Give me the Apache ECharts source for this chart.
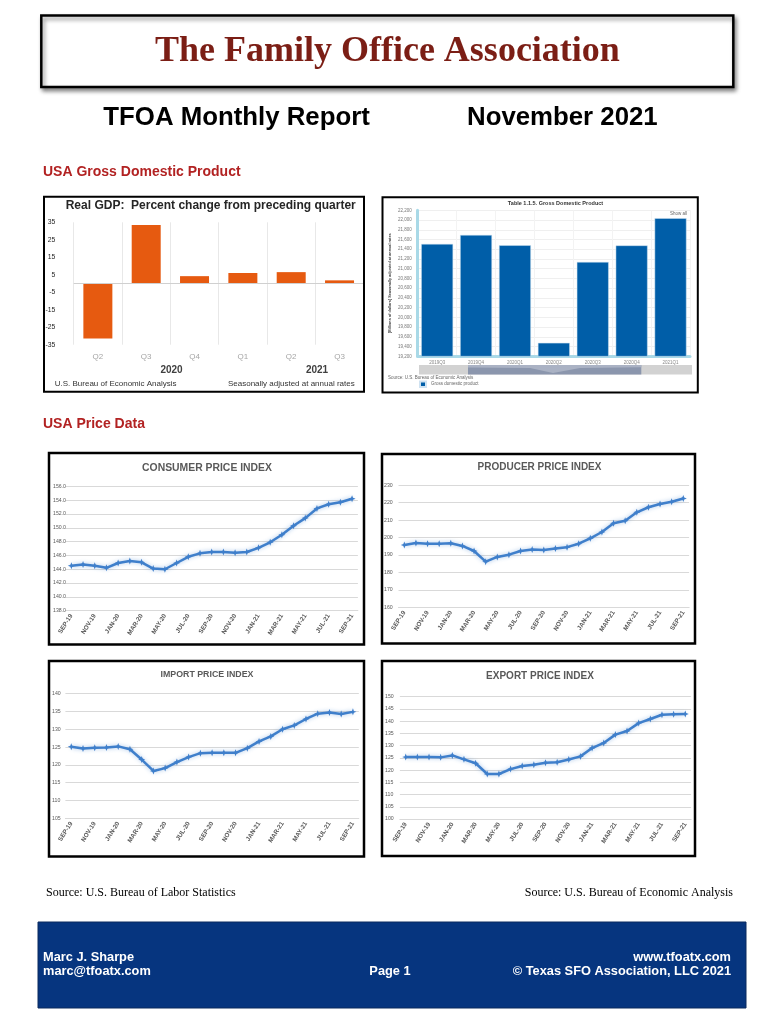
<!DOCTYPE html>
<html><head><meta charset="utf-8">
<script src="https://cdn.jsdelivr.net/npm/echarts@6/dist/echarts.min.js"></script>
<style>html,body{margin:0;padding:0;background:#fff}#c{width:781px;height:1016px}</style>
</head><body><div id="c"></div>
<script>
// ---- data ----
const gdpQuarters = ['Q2', 'Q3', 'Q4', 'Q1', 'Q2', 'Q3'];
const gdpChange = [-31.5, 33.5, 4.2, 6.0, 6.5, 1.8];
const gdpYears = ['2020', '2021'];
const gdpLevelQuarters = ['2019Q3', '2019Q4', '2020Q1', '2020Q2', '2020Q3', '2020Q4', '2021Q1'];
const gdpLevel = [21510, 21694, 21481, 19477, 21139, 21478, 22038];
const months = ['SEP-19','OCT-19','NOV-19','DEC-19','JAN-20','FEB-20','MAR-20','APR-20','MAY-20','JUN-20',
  'JUL-20','AUG-20','SEP-20','OCT-20','NOV-20','DEC-20','JAN-21','FEB-21','MAR-21','APR-21','MAY-21',
  'JUN-21','JUL-21','AUG-21','SEP-21'];
const cpiValues = [144.5,144.7,144.5,144.2,144.9,145.2,145.0,144.1,144.0,144.9,145.8,146.3,146.5,146.5,
  146.4,146.5,147.1,147.9,149.0,150.3,151.4,152.8,153.4,153.7,154.2];
const ppiValues = [195.8,196.9,196.5,196.5,196.7,195.2,192.3,186.2,188.9,190.2,192.3,193.1,192.9,193.7,
  194.5,196.5,199.6,203.2,208.2,209.7,214.5,217.4,219.3,220.6,222.4];
const importValues = [125.1,124.6,124.8,124.9,125.2,124.4,121.5,118.3,119.1,120.8,122.2,123.3,123.4,123.4,
  123.4,124.7,126.6,128.0,130.0,131.1,132.9,134.4,134.7,134.3,134.9];
const exportValues = [125.3,125.3,125.3,125.2,126.0,124.4,122.8,118.4,118.4,120.4,121.7,122.2,123.0,123.2,
  124.3,125.6,129.0,131.1,134.5,136.0,139.2,140.9,142.6,142.8,142.9];
const gdpChangeAxis = {min: -35, max: 35, interval: 10};
const gdpLevelAxis = {min: 19200, max: 22200, interval: 200};
const cpiAxis = {min: 138, max: 156, interval: 2};
const ppiAxis = {min: 160, max: 230, interval: 10};
const importAxis = {min: 105, max: 140, interval: 5};
const exportAxis = {min: 100, max: 150, interval: 5};

// ---- styles ----
const SANS = "'Liberation Sans', Arial, sans-serif";
const SERIF = "'Liberation Serif', 'Times New Roman', serif";
const LINE = '#3f7fcb';
const STAR = 'path://M5,0 L6.4,3.6 L10,5 L6.4,6.4 L5,10 L3.6,6.4 L0,5 L3.6,3.6 Z';

function txt(x, y, text, font, fill, align) {
  return {type: 'text', x: x, y: y, z: 50, silent: true,
    style: {text: text, font: font, fill: fill, align: align || 'left', textAlign: align || 'left',
      verticalAlign: 'middle', textVerticalAlign: 'middle'}};
}
function box(x, y, w, h, lw) {
  return {type: 'rect', z: 40, silent: true, shape: {x: x, y: y, width: w, height: h},
    style: {fill: 'none', stroke: '#000', lineWidth: lw}};
}
function monthAxis(gi) {
  return {type: 'category', gridIndex: gi, data: months, boundaryGap: true,
    axisLine: {show: true, lineStyle: {color: '#d9d9d9', width: 1}}, axisTick: {show: false},
    splitLine: {show: false},
    axisLabel: {interval: 1, rotate: 58, fontSize: 6.3, fontWeight: 'bold', color: '#595959',
      fontFamily: SANS, margin: 4}};
}
function lineY(gi, ax, margin, fmt) {
  return {type: 'value', gridIndex: gi, min: ax.min, max: ax.max, interval: ax.interval,
    axisLine: {show: false}, axisTick: {show: false},
    splitLine: {show: true, lineStyle: {color: '#d9d9d9', width: 1}},
    axisLabel: {fontSize: 5.2, color: '#595959', fontFamily: SANS, margin: margin, align: 'left',
      formatter: fmt || (v => String(v))}};
}
function lineSeries(name, gi, values) {
  return {type: 'line', name: name, xAxisIndex: gi, yAxisIndex: gi, data: values,
    symbol: STAR, symbolSize: 7, itemStyle: {color: LINE},
    lineStyle: {color: LINE, width: 2.5, shadowColor: 'rgba(63,127,203,0.45)', shadowBlur: 4},
    animation: false};
}

const option = {
  backgroundColor: '#fff',
  animation: false,
  grid: [
    {left: 73.7, top: 222.3, width: 290, height: 122.4},
    {left: 417.7, top: 210.3, width: 272.3, height: 146},
    {left: 65.5, top: 486.3, width: 292.4, height: 124.4},
    {left: 398.5, top: 485.3, width: 290.6, height: 122},
    {left: 65.4, top: 693.7, width: 293.4, height: 124.6},
    {left: 399.9, top: 696.7, width: 291.2, height: 122.3}
  ],
  legend: {data: ['Gross domestic product'], left: 419, top: 380.5, padding: 0, itemWidth: 6, itemHeight: 5.5,
    icon: 'rect', textStyle: {fontSize: 4.5, color: '#666', fontFamily: SANS}, selectedMode: false},
  xAxis: [
    {type: 'category', gridIndex: 0, data: gdpQuarters, axisLine: {show: false}, axisTick: {show: false},
      splitLine: {show: true, lineStyle: {color: '#e8e8e8'}},
      axisLabel: {color: '#a6a6a6', fontSize: 8, fontFamily: SANS, margin: 7.6}},
    {type: 'category', gridIndex: 1, data: gdpLevelQuarters,
      axisLine: {show: true, lineStyle: {color: '#a9d9e7', width: 3}}, axisTick: {show: false},
      splitLine: {show: true, lineStyle: {color: '#f3f3f3'}},
      axisLabel: {color: '#888', fontSize: 4.5, fontFamily: SANS, margin: 3.5}},
    monthAxis(2), monthAxis(3), monthAxis(4), monthAxis(5)
  ],
  yAxis: [
    {type: 'value', gridIndex: 0, min: gdpChangeAxis.min, max: gdpChangeAxis.max, interval: gdpChangeAxis.interval,
      axisLine: {show: false}, axisTick: {show: false}, splitLine: {show: false},
      axisLabel: {color: '#262626', fontSize: 6.8, fontFamily: SANS, margin: 18.5}},
    {type: 'value', gridIndex: 1, min: gdpLevelAxis.min, max: gdpLevelAxis.max, interval: gdpLevelAxis.interval,
      axisLine: {show: true, lineStyle: {color: '#a9d9e7', width: 3}}, axisTick: {show: false},
      splitLine: {show: true, lineStyle: {color: '#efefef'}},
      axisLabel: {color: '#777', fontSize: 4.5, fontFamily: SANS, margin: 6,
        formatter: v => v.toLocaleString('en-US')},
      name: '[Billions of dollars] Seasonally adjusted at annual rates', nameLocation: 'middle',
      nameRotate: 90, nameGap: 26, nameTextStyle: {fontSize: 3.8, color: '#444', fontWeight: 'bold', fontFamily: SANS}},
    lineY(2, cpiAxis, 12.5, v => v.toFixed(1)),
    lineY(3, ppiAxis, 14.5),
    lineY(4, importAxis, 13.4),
    lineY(5, exportAxis, 14.9)
  ],
  series: [
    {type: 'bar', name: 'Real GDP', xAxisIndex: 0, yAxisIndex: 0, data: gdpChange, barWidth: '60%',
      itemStyle: {color: '#e65a10'},
      markLine: {silent: true, symbol: 'none', label: {show: false}, animation: false,
        lineStyle: {color: '#d0d0d0', type: 'solid', width: 1}, data: [{yAxis: 0}]}},
    {type: 'bar', name: 'Gross domestic product', xAxisIndex: 1, yAxisIndex: 1, data: gdpLevel, barWidth: '82%',
      itemStyle: {color: '#005ea8', borderColor: '#cfe2f1', borderWidth: 0.5}},
    lineSeries('Consumer Price Index', 2, cpiValues),
    lineSeries('Producer Price Index', 3, ppiValues),
    lineSeries('Import Price Index', 4, importValues),
    lineSeries('Export Price Index', 5, exportValues)
  ],
  graphic: [
    // header
    {type: 'rect', z: 30, silent: true, shape: {x: 41.3, y: 15.5, width: 692, height: 71.5},
      style: {fill: '#fff', stroke: '#000', lineWidth: 2.5, shadowBlur: 4, shadowOffsetX: 2, shadowOffsetY: 3,
        shadowColor: 'rgba(0,0,0,0.45)'}},
    txt(387.4, 51.5, 'The Family Office Association', 'bold 36px ' + SERIF, '#7b1e15', 'center'),
    txt(103.3, 118, 'TFOA Monthly Report', 'bold 25.8px ' + SANS, '#000'),
    txt(467, 118, 'November 2021', 'bold 25.8px ' + SANS, '#000'),
    txt(43, 172, 'USA Gross Domestic Product', 'bold 14px ' + SANS, '#b22222'),
    txt(43, 424, 'USA Price Data', 'bold 14px ' + SANS, '#b22222'),
    // GDP change chart
    box(44, 196.7, 320, 195, 2),
    txt(65.7, 205.7, 'Real GDP:  Percent change from preceding quarter', 'bold 12px ' + SANS, '#262626'),
    txt(171.5, 370, gdpYears[0], 'bold 10px ' + SANS, '#404040', 'center'),
    txt(317, 370, gdpYears[1], 'bold 10px ' + SANS, '#404040', 'center'),
    txt(54.7, 383.7, 'U.S. Bureau of Economic Analysis', '8px ' + SANS, '#333'),
    txt(354.7, 383.7, 'Seasonally adjusted at annual rates', '8px ' + SANS, '#333', 'right'),
    // GDP level chart
    box(382.5, 197.2, 315.3, 195.3, 2),
    txt(555.5, 203, 'Table 1.1.5. Gross Domestic Product', 'bold 5.5px ' + SANS, '#333', 'center'),
    txt(687, 214, 'Show all', '4.5px ' + SANS, '#666', 'right'),
    {type: 'rect', z: 30, silent: true, shape: {x: 419, y: 365, width: 273, height: 9.5}, style: {fill: '#d2d2d2'}},
    {type: 'rect', z: 31, silent: true, shape: {x: 468, y: 365, width: 173.3, height: 9.5}, style: {fill: '#8b96ad'}},
    {type: 'polygon', z: 32, silent: true,
      shape: {points: [[468, 365], [641.3, 365], [641.3, 367.3], [580, 368], [553, 373], [530, 368], [468, 367.5]]},
      style: {fill: '#aab2c4'}},
    txt(388, 377.3, 'Source: U.S. Bureau of Economic Analysis', '4.5px ' + SANS, '#666'),
    // price charts
    box(49, 453, 315, 191.5, 2.5),
    box(382, 454, 313, 189.5, 2.5),
    box(49, 661, 315, 195.5, 2.5),
    box(382, 661, 313, 195, 2.5),
    txt(207, 468, 'CONSUMER PRICE INDEX', 'bold 10.4px ' + SANS, '#595959', 'center'),
    txt(539.5, 467, 'PRODUCER PRICE INDEX', 'bold 10px ' + SANS, '#595959', 'center'),
    txt(207, 675, 'IMPORT PRICE INDEX', 'bold 8.8px ' + SANS, '#595959', 'center'),
    txt(540, 676, 'EXPORT PRICE INDEX', 'bold 10px ' + SANS, '#595959', 'center'),
    // sources
    txt(46, 893, 'Source: U.S. Bureau of Labor Statistics', '12px ' + SERIF, '#000'),
    txt(733, 893, 'Source: U.S. Bureau of Economic Analysis', '12px ' + SERIF, '#000', 'right'),
    // footer
    {type: 'rect', z: 30, silent: true, shape: {x: 38, y: 922, width: 708, height: 86},
      style: {fill: '#06357f', stroke: '#0b2a5e', lineWidth: 1}},
    txt(43, 957, 'Marc J. Sharpe', 'bold 12.8px ' + SANS, '#fff'),
    txt(43, 971, 'marc@tfoatx.com', 'bold 12.8px ' + SANS, '#fff'),
    txt(390, 971, 'Page 1', 'bold 12.8px ' + SANS, '#fff', 'center'),
    txt(731, 957, 'www.tfoatx.com', 'bold 12.8px ' + SANS, '#fff', 'right'),
    txt(731, 971, '\u00A9 Texas SFO Association, LLC 2021', 'bold 12.8px ' + SANS, '#fff', 'right')
  ]
};
const chart = echarts.init(document.getElementById('c'), null, {renderer: 'canvas'});
chart.setOption(option);
</script>
</body></html>
